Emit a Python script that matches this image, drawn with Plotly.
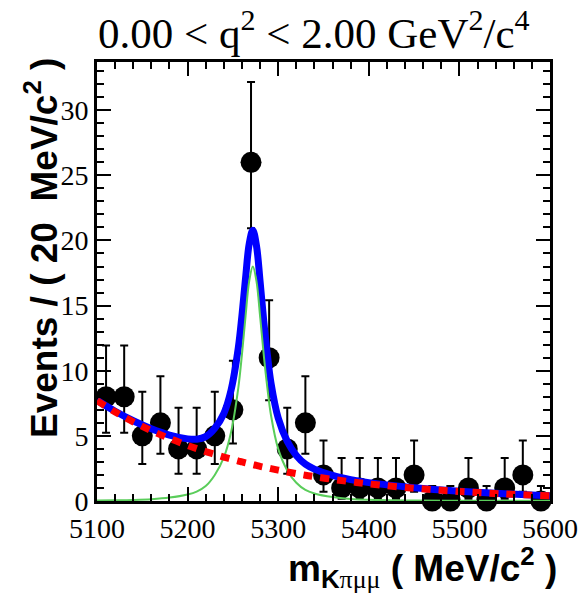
import plotly.graph_objects as go

# Binned data: 20 MeV/c^2 bins
bin_centers = [5110, 5130, 5150, 5170, 5190, 5210, 5230, 5250, 5270, 5290,
               5310, 5330, 5350, 5370, 5390, 5410, 5430, 5450, 5470, 5490,
               5510, 5530, 5550, 5570, 5590]
counts = [8, 8, 5, 6, 4, 4, 5, 7, 26, 11,
          4, 6, 2, 1, 1, 1, 1, 2, 0, 0,
          1, 0, 1, 2, 0]

# Poisson (68.27%) interval half-widths per count
poisson_lo = {0: 0.0, 1: 0.827, 2: 1.291, 4: 1.914, 5: 2.159, 6: 2.379,
              7: 2.580, 8: 2.768, 11: 3.265, 26: 5.066}
poisson_hi = {0: 1.148, 1: 2.299, 2: 2.638, 4: 3.162, 5: 3.382, 6: 3.583,
              7: 3.770, 8: 3.945, 11: 4.416, 26: 6.164}
err_lo = [poisson_lo[n] for n in counts]
err_hi = [poisson_hi[n] for n in counts]

# Fit components sampled along the mass axis
curve_mass = [5100, 5120, 5140, 5160, 5180, 5200, 5210, 5220, 5230, 5240,
              5248, 5256, 5260, 5264, 5268, 5272, 5276, 5280, 5284, 5288,
              5292, 5300, 5310, 5320, 5330, 5340, 5360, 5380, 5400, 5450,
              5500, 5550, 5600]
signal = [0.03, 0.05, 0.08, 0.14, 0.26, 0.50, 0.72, 1.15, 2.00, 3.35,
          5.30, 8.71, 11.26, 14.20, 16.88, 18.00, 16.88, 14.20, 11.26, 8.71,
          6.60, 4.00, 2.35, 1.40, 0.85, 0.58, 0.30, 0.16, 0.10, 0.04,
          0.02, 0.01, 0.01]
background = [7.70, 6.84, 6.08, 5.40, 4.80, 4.27, 4.02, 3.79, 3.58, 3.37,
              3.22, 3.07, 3.00, 2.93, 2.86, 2.79, 2.73, 2.66, 2.60, 2.54,
              2.48, 2.37, 2.23, 2.10, 1.98, 1.87, 1.66, 1.48, 1.31, 0.98,
              0.73, 0.54, 0.40]
total = [s + b for s, b in zip(signal, background)]

x_ticks = [5100, 5200, 5300, 5400, 5500, 5600]
y_ticks = [0, 5, 10, 15, 20, 25, 30]

W, H = 578, 596
L, R, T, B = 97, 28, 62, 95
pw, ph = W - L - R, H - T - B

fig = go.Figure()

fig.add_trace(go.Scatter(
    x=bin_centers, y=counts, mode="markers",
    marker=dict(color="black", size=21),
    error_y=dict(type="data", symmetric=False, array=err_hi, arrayminus=err_lo,
                 color="black", thickness=2, width=4),
    cliponaxis=False, hoverinfo="skip"))

fig.add_trace(go.Scatter(
    x=curve_mass, y=total, mode="lines", line_shape="spline",
    line=dict(color="rgb(0,0,255)", width=7), hoverinfo="skip"))

fig.add_trace(go.Scatter(
    x=curve_mass, y=signal, mode="lines", line_shape="spline",
    line=dict(color="rgb(90,205,90)", width=2), hoverinfo="skip"))

fig.add_trace(go.Scatter(
    x=curve_mass, y=background, mode="lines", line_shape="spline",
    line=dict(color="rgb(255,0,0)", width=7, dash="9px,8px"), hoverinfo="skip"))

axis_common = dict(
    showline=True, linewidth=3, linecolor="black", mirror="ticks",
    ticks="inside", ticklen=14, tickwidth=2, tickcolor="black",
    showgrid=False, zeroline=False, automargin=False,
    tickfont=dict(family="Liberation Serif", size=28, color="black"),
)

fig.update_xaxes(range=[5100, 5600], tickvals=x_ticks,
                 ticktext=[str(v) for v in x_ticks],
                 minor=dict(dtick=20, ticklen=7, tickwidth=2, tickcolor="black",
                            ticks="inside", showgrid=False),
                 **axis_common)
fig.update_yaxes(range=[0, 33.7], tickvals=y_ticks,
                 ticktext=[str(v) for v in y_ticks],
                 minor=dict(dtick=1, ticklen=7, tickwidth=2, tickcolor="black",
                            ticks="inside", showgrid=False),
                 **axis_common)


def px_x(px):
    return (px - L) / pw


def px_y(py):
    return (H - B - py) / ph


fig.add_annotation(
    text="0.00 &lt; q<sup>2</sup> &lt; 2.00 GeV<sup>2</sup>/c<sup>4</sup>",
    xref="paper", yref="paper", x=px_x(314), y=px_y(30),
    xanchor="center", yanchor="middle", showarrow=False,
    font=dict(family="Liberation Serif", size=43, color="black"))

fig.add_annotation(
    text="<b>Events / ( 20  MeV/c<sup>2</sup> )</b>",
    xref="paper", yref="paper", x=px_x(41), y=px_y(248),
    xanchor="center", yanchor="middle", textangle=-90, showarrow=False,
    font=dict(family="Liberation Sans", size=37, color="black"))

fig.add_annotation(
    text="<b>m</b><sub><b>K</b><span style='font-family:Liberation Serif'>πμμ</span></sub>"
         "<b> ( MeV/c<sup>2</sup> )</b>",
    xref="paper", yref="paper", x=px_x(559), y=px_y(568),
    xanchor="right", yanchor="middle", showarrow=False,
    font=dict(family="Liberation Sans", size=37, color="black"))

fig.update_layout(
    width=W, height=H, margin=dict(l=L, r=R, t=T, b=B, autoexpand=False),
    paper_bgcolor="white", plot_bgcolor="white", showlegend=False,
)

fig.write_html("out.html")
